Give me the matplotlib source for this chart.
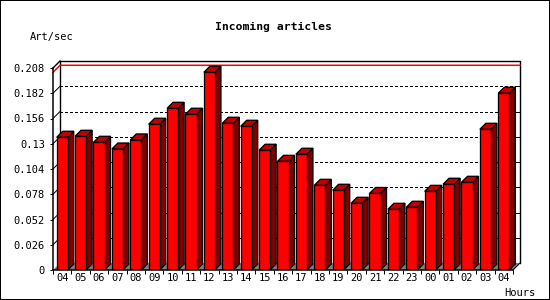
import matplotlib
matplotlib.use("Agg")
import matplotlib.pyplot as plt
import numpy as np

# data
hours = ["04", "05", "06", "07", "08", "09", "10", "11", "12", "13", "14", "15",
         "16", "17", "18", "19", "20", "21", "22", "23", "00", "01", "02", "03", "04"]
art_per_sec = [0.1367, 0.1377, 0.1315, 0.1246, 0.1339, 0.1501, 0.1665, 0.1604,
               0.2036, 0.1511, 0.1480, 0.1233, 0.1119, 0.1192, 0.0872, 0.0821,
               0.0687, 0.0788, 0.0625, 0.0646, 0.0810, 0.0883, 0.0903, 0.1449,
               0.1820]
y_ticks = [0, 0.026, 0.052, 0.078, 0.104, 0.13, 0.156, 0.182, 0.208]
y_tick_labels = ["0", "0.026", "0.052", "0.078", "0.104", "0.13", "0.156", "0.182", "0.208"]

plt.rcParams['font.family'] = ['DejaVu Sans Mono']
PX = 0.72  # one pixel in points at dpi 100

fig = plt.figure(figsize=(5.5, 3.0), dpi=100)
fig.patch.set_facecolor("white")
fig.patch.set_edgecolor("black")
fig.patch.set_linewidth(2 * PX)

ax_w, ax_h = 460, 202
ax = fig.add_axes([53 / 550, 30 / 300, ax_w / 550, ax_h / 300])
ax.set_facecolor("none")
n = len(hours)
x0, x1 = -0.5, n - 0.5
ymax = 0.208
ax.set_xlim(x0, x1)
ax.set_ylim(0, ymax)

# pixel depth converted into data units
def depth(px):
    return px / (ax_w / n), px / (ax_h / ymax)

wx, wy = depth(7)   # back wall offset
bx, by = depth(6)   # bar depth

common = dict(clip_on=False)

# back wall
ax.fill([x0 + wx, x1 + wx, x1 + wx, x0 + wx], [wy, wy, ymax + wy, ymax + wy],
        facecolor="white", edgecolor="none", zorder=0, **common)
ax.plot([x0 + wx, x0 + wx, x1 + wx, x1 + wx], [wy, ymax + wy, ymax + wy, wy],
        color="black", lw=PX * 1.4, zorder=1, **common)
ax.plot([x0, x0 + wx], [ymax, ymax + wy], color="black", lw=PX * 1.4, zorder=1, **common)

# dotted grid on the back wall, with small connectors to the front axis
tx, _ = depth(4)
for t in y_ticks[1:-1]:
    ax.plot([x0 + wx, x1 + wx], [t + wy, t + wy], color="black", lw=PX * 1.1,
            ls=(0, (2, 2)), antialiased=False, zorder=1, **common)
    ax.plot([x0, x0 + wx], [t, t + wy], color="black", lw=PX, zorder=1, **common)
    ax.plot([x1 + wx - tx, x1 + wx], [t + wy, t + wy], color="black", lw=PX,
            zorder=1, **common)

# red line at the maximum
vmax = max(art_per_sec)
ax.plot([x0, x0 + wx, x1 + wx], [vmax, vmax + wy, vmax + wy], color="#ff0000",
        lw=PX * 1.5, zorder=1.5, **common)

# floor
ax.fill([x0, x1, x1 + wx, x0 + wx], [0, 0, wy, wy], facecolor="#808080",
        edgecolor="none", zorder=2, **common)
ax.plot([x1, x1 + wx], [0, wy], color="black", lw=PX, zorder=2, **common)

# 3d bars
w = 0.6
xs = np.arange(n)
for i, v in zip(xs, art_per_sec):
    l, r = i - w / 2, i + w / 2
    ax.fill([r, r + bx, r + bx, r], [0, by, v + by, v], facecolor="#800000",
            edgecolor="black", lw=PX * 1.3, zorder=3, joinstyle="miter", **common)
    ax.fill([l, r, r + bx, l + bx], [v, v, v + by, v + by], facecolor="#c00000",
            edgecolor="black", lw=PX * 1.3, zorder=3, joinstyle="miter", **common)
ax.bar(xs, art_per_sec, width=w, color="#ff0000", edgecolor="black",
       linewidth=PX * 1.3, zorder=4)

# axes
for side in ["top", "right"]:
    ax.spines[side].set_visible(False)
for side in ["left", "bottom"]:
    ax.spines[side].set_linewidth(PX * 1.5)
    ax.spines[side].set_zorder(5)

ax.set_yticks(y_ticks)
ax.set_yticklabels(y_tick_labels)
ax.tick_params(axis="y", length=3 * PX, width=PX, pad=5 * PX, labelsize=7.5)
ax.set_xticks(np.arange(x0, x1 + 0.5, 1.0))
ax.set_xticklabels([])
ax.set_xticks(xs, minor=True)
ax.set_xticklabels(hours, minor=True)
ax.tick_params(axis="x", which="major", length=4 * PX, width=PX, direction="out")
ax.tick_params(axis="x", which="minor", length=0, pad=3 * PX, labelsize=7.5)

fig.text(273.5 / 550, 1 - 26.5 / 300, "Incoming articles", ha="center", va="center",
         fontsize=8.2, fontweight="bold")
fig.text(30 / 550, 1 - 37 / 300, "Art/sec", ha="left", va="center", fontsize=7.5)
fig.text(504 / 550, 1 - 292.5 / 300, "Hours", ha="left", va="center", fontsize=7.5)

fig.savefig("out.png", dpi=100)
